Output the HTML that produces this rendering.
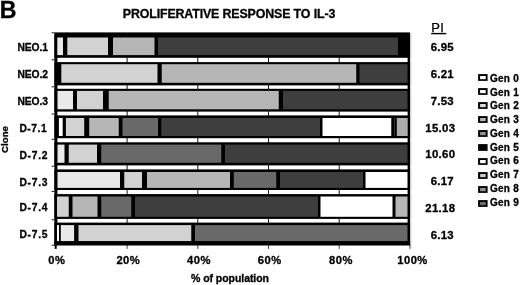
<!DOCTYPE html><html><head><meta charset="utf-8"><title>Proliferative response to IL-3</title>
<style>html,body{margin:0;padding:0;background:#fff}svg{display:block}text{font-family:"Liberation Sans",Arial,Helvetica,sans-serif;fill:#000}.b{font-weight:bold;stroke:#000;stroke-width:.3px}</style></head><body>
<svg width="520" height="285" viewBox="0 0 520 285">
<rect width="520" height="285" fill="#fff"/>
<rect x="54.4" y="32.4" width="355.70000000000005" height="212.9" fill="#000"/>
<rect x="57.4" y="35.1" width="350.20000000000005" height="208.20000000000002" fill="#fff"/>
<rect x="410.70000000000005" y="32.4" width="1" height="215.9" fill="#e4e4e4"/>
<rect x="126.60" y="33.4" width="1" height="211.9" fill="#1a1a1a"/>
<rect x="197.30" y="33.4" width="1" height="211.9" fill="#1a1a1a"/>
<rect x="268.00" y="33.4" width="1" height="211.9" fill="#1a1a1a"/>
<rect x="338.70" y="33.4" width="1" height="211.9" fill="#1a1a1a"/>
<rect x="54.7" y="244.3" width="2" height="4.6" fill="#000"/>
<rect x="126.60" y="244.3" width="1" height="4.6" fill="#444"/>
<rect x="197.30" y="244.3" width="1" height="4.6" fill="#444"/>
<rect x="268.00" y="244.3" width="1" height="4.6" fill="#444"/>
<rect x="338.70" y="244.3" width="1" height="4.6" fill="#444"/>
<rect x="409.40" y="244.3" width="1" height="4.6" fill="#444"/>
<rect x="51.6" y="32.30" width="3.2" height="1" fill="#222"/>
<rect x="51.6" y="59.30" width="3.2" height="1" fill="#222"/>
<rect x="51.6" y="86.30" width="3.2" height="1" fill="#222"/>
<rect x="51.6" y="113.50" width="3.2" height="1" fill="#222"/>
<rect x="51.6" y="138.80" width="3.2" height="1" fill="#222"/>
<rect x="51.6" y="165.70" width="3.2" height="1" fill="#222"/>
<rect x="51.6" y="190.90" width="3.2" height="1" fill="#222"/>
<rect x="51.6" y="219.30" width="3.2" height="1" fill="#222"/>
<rect x="51.6" y="244.70" width="3.2" height="1" fill="#222"/>
<rect x="54.4" y="34.80" width="355.70000000000005" height="23.00" fill="#000"/>
<rect x="57.3" y="37.50" width="5.70" height="17.60" fill="#e9e9e9"/>
<rect x="67.3" y="37.50" width="40.70" height="17.60" fill="#d2d2d2"/>
<rect x="113" y="37.50" width="41.50" height="17.60" fill="#b6b6b6"/>
<rect x="158" y="37.50" width="240.00" height="17.60" fill="#3e3e3e"/>
<text class="b" x="17.5" y="50.60" font-size="10.3" textLength="30.4" lengthAdjust="spacing">NEO.1</text>
<text class="b" x="454.0" y="50.60" font-size="11.4" letter-spacing="0.3" text-anchor="end">6.95</text>
<rect x="54.4" y="62.10" width="355.70000000000005" height="23.30" fill="#000"/>
<rect x="61.3" y="64.20" width="96.20" height="18.60" fill="#d2d2d2"/>
<rect x="161.75" y="64.20" width="194.50" height="18.60" fill="#b6b6b6"/>
<rect x="359.5" y="64.20" width="48.00" height="18.60" fill="#3e3e3e"/>
<text class="b" x="17.5" y="78.30" font-size="10.3" textLength="30.4" lengthAdjust="spacing">NEO.2</text>
<text class="b" x="454.0" y="78.00" font-size="11.4" letter-spacing="0.3" text-anchor="end">6.21</text>
<rect x="54.4" y="88.80" width="355.70000000000005" height="22.80" fill="#000"/>
<rect x="57.5" y="90.90" width="15.50" height="18.40" fill="#e9e9e9"/>
<rect x="77" y="90.90" width="26.00" height="18.40" fill="#d2d2d2"/>
<rect x="108.75" y="90.90" width="170.00" height="18.40" fill="#b6b6b6"/>
<rect x="283" y="90.90" width="124.50" height="18.40" fill="#3e3e3e"/>
<text class="b" x="17.5" y="105.00" font-size="10.3" textLength="30.4" lengthAdjust="spacing">NEO.3</text>
<text class="b" x="454.0" y="104.80" font-size="11.4" letter-spacing="0.3" text-anchor="end">7.53</text>
<rect x="54.4" y="115.40" width="355.70000000000005" height="22.80" fill="#000"/>
<rect x="58.9" y="118.00" width="3.80" height="18.00" fill="#ffffff"/>
<rect x="65.9" y="118.00" width="18.30" height="18.00" fill="#d2d2d2"/>
<rect x="89.2" y="118.00" width="29.55" height="18.00" fill="#b6b6b6"/>
<rect x="122.5" y="118.00" width="35.50" height="18.00" fill="#696969"/>
<rect x="161.25" y="118.00" width="158.75" height="18.00" fill="#3e3e3e"/>
<rect x="322.5" y="118.00" width="68.75" height="18.00" fill="#ffffff"/>
<rect x="394" y="118.00" width="0.60" height="18.00" fill="#505050"/>
<rect x="396.8" y="118.00" width="10.90" height="18.00" fill="#adadad"/>
<text class="b" x="19.4" y="132.20" font-size="10.3" textLength="27.3" lengthAdjust="spacing">D-7.1</text>
<text class="b" x="455.3" y="131.80" font-size="11.4" letter-spacing="0.3" text-anchor="end">15.03</text>
<rect x="54.4" y="142.30" width="355.70000000000005" height="23.10" fill="#000"/>
<rect x="57.5" y="144.60" width="7.00" height="18.20" fill="#e9e9e9"/>
<rect x="68.75" y="144.60" width="28.25" height="18.20" fill="#d2d2d2"/>
<rect x="101.25" y="144.60" width="120.00" height="18.20" fill="#696969"/>
<rect x="225" y="144.60" width="182.50" height="18.20" fill="#3e3e3e"/>
<text class="b" x="19.4" y="158.90" font-size="10.3" textLength="28.2" lengthAdjust="spacing">D-7.2</text>
<text class="b" x="455.3" y="158.20" font-size="11.4" letter-spacing="0.3" text-anchor="end">10.60</text>
<rect x="54.4" y="169.40" width="355.70000000000005" height="20.60" fill="#000"/>
<rect x="57.5" y="172.00" width="62.50" height="15.90" fill="#e9e9e9"/>
<rect x="124.25" y="172.00" width="17.75" height="15.90" fill="#d2d2d2"/>
<rect x="147" y="172.00" width="83.00" height="15.90" fill="#b6b6b6"/>
<rect x="233.75" y="172.00" width="42.50" height="15.90" fill="#696969"/>
<rect x="280" y="172.00" width="83.00" height="15.90" fill="#3e3e3e"/>
<rect x="365.5" y="172.00" width="42.00" height="15.90" fill="#ffffff"/>
<text class="b" x="19.4" y="185.50" font-size="10.3" textLength="28.2" lengthAdjust="spacing">D-7.3</text>
<text class="b" x="454.0" y="185.00" font-size="11.4" letter-spacing="0.3" text-anchor="end">6.17</text>
<rect x="54.4" y="194.10" width="355.70000000000005" height="24.80" fill="#000"/>
<rect x="57" y="196.50" width="11.75" height="20.30" fill="#d2d2d2"/>
<rect x="72.5" y="196.50" width="25.00" height="20.30" fill="#b6b6b6"/>
<rect x="101.25" y="196.50" width="30.00" height="20.30" fill="#696969"/>
<rect x="135" y="196.50" width="183.00" height="20.30" fill="#3e3e3e"/>
<rect x="320.5" y="196.50" width="72.00" height="20.30" fill="#ffffff"/>
<rect x="395.5" y="196.50" width="12.00" height="20.30" fill="#b6b6b6"/>
<text class="b" x="19.4" y="210.80" font-size="10.3" textLength="28.2" lengthAdjust="spacing">D-7.4</text>
<text class="b" x="455.3" y="211.80" font-size="11.4" letter-spacing="0.3" text-anchor="end">21.18</text>
<rect x="54.4" y="222.60" width="355.70000000000005" height="22.40" fill="#000"/>
<rect x="57" y="225.10" width="2.00" height="16.20" fill="#ffffff"/>
<rect x="60.8" y="225.10" width="13.30" height="16.20" fill="#e9e9e9"/>
<rect x="78.5" y="225.10" width="112.75" height="16.20" fill="#d2d2d2"/>
<rect x="195" y="225.10" width="212.50" height="16.20" fill="#696969"/>
<text class="b" x="19.4" y="237.50" font-size="10.3" textLength="28.2" lengthAdjust="spacing">D-7.5</text>
<text class="b" x="454.0" y="238.90" font-size="11.4" letter-spacing="0.3" text-anchor="end">6.13</text>
<rect x="54.4" y="241.2" width="355.70000000000005" height="4.100000000000023" fill="#000"/>
<text class="b" x="-0.3" y="17.5" font-size="23.2">B</text>
<text class="b" x="122.8" y="17.7" font-size="12.4" textLength="212.5" lengthAdjust="spacing">PROLIFERATIVE RESPONSE TO IL-3</text>
<text x="431.3" y="32.2" font-size="13" letter-spacing="0.3" stroke="#000" stroke-width="0.25">PI</text>
<rect x="431.2" y="32.9" width="15" height="1.4" fill="#000"/>
<text class="b" x="56.85" y="263.9" font-size="11.2" letter-spacing="0.5" text-anchor="middle">0%</text>
<text class="b" x="128.35" y="263.9" font-size="11.2" letter-spacing="0.5" text-anchor="middle">20%</text>
<text class="b" x="199.00" y="263.9" font-size="11.2" letter-spacing="0.5" text-anchor="middle">40%</text>
<text class="b" x="269.75" y="263.9" font-size="11.2" letter-spacing="0.5" text-anchor="middle">60%</text>
<text class="b" x="341.00" y="263.9" font-size="11.2" letter-spacing="0.5" text-anchor="middle">80%</text>
<text class="b" x="412.50" y="263.9" font-size="11.2" letter-spacing="0.5" text-anchor="middle">100%</text>
<text class="b" x="191.0" y="281.6" font-size="10.5" textLength="78" lengthAdjust="spacing">% of population</text>
<text class="b" font-size="9.7" transform="translate(8.1,152.9) rotate(-90)">Clone</text>
<rect x="478.1" y="74.10" width="9.5" height="6.8" fill="#000"/>
<rect x="480.1" y="76.00" width="5.6" height="3.2" fill="#fff"/>
<text class="b" x="489.9" y="81.80" font-size="10" textLength="28.9" lengthAdjust="spacing">Gen 0</text>
<rect x="478.1" y="88.10" width="9.5" height="6.8" fill="#000"/>
<rect x="480.1" y="90.00" width="5.6" height="3.2" fill="#fff"/>
<text class="b" x="489.9" y="95.56" font-size="10" textLength="28.9" lengthAdjust="spacing">Gen 1</text>
<rect x="478.1" y="102.10" width="9.5" height="6.8" fill="#000"/>
<rect x="480.1" y="104.00" width="5.6" height="3.2" fill="#dcdcdc"/>
<text class="b" x="489.9" y="109.32" font-size="10" textLength="28.9" lengthAdjust="spacing">Gen 2</text>
<rect x="478.1" y="116.10" width="9.5" height="6.8" fill="#000"/>
<rect x="480.1" y="118.00" width="5.6" height="3.2" fill="#b4b4b4"/>
<text class="b" x="489.9" y="123.08" font-size="10" textLength="28.9" lengthAdjust="spacing">Gen 3</text>
<rect x="478.1" y="130.10" width="9.5" height="6.8" fill="#000"/>
<rect x="480.1" y="132.00" width="5.6" height="3.2" fill="#949494"/>
<text class="b" x="489.9" y="136.84" font-size="10" textLength="28.9" lengthAdjust="spacing">Gen 4</text>
<rect x="478.1" y="144.10" width="9.5" height="6.8" fill="#000"/>
<rect x="480.1" y="146.00" width="5.6" height="3.2" fill="#000"/>
<text class="b" x="489.9" y="150.60" font-size="10" textLength="28.9" lengthAdjust="spacing">Gen 5</text>
<rect x="478.1" y="158.10" width="9.5" height="6.8" fill="#000"/>
<rect x="480.1" y="160.00" width="5.6" height="3.2" fill="#fff"/>
<text class="b" x="489.9" y="164.36" font-size="10" textLength="28.9" lengthAdjust="spacing">Gen 6</text>
<rect x="478.1" y="172.10" width="9.5" height="6.8" fill="#000"/>
<rect x="480.1" y="174.00" width="5.6" height="3.2" fill="#c8c8c8"/>
<text class="b" x="489.9" y="178.12" font-size="10" textLength="28.9" lengthAdjust="spacing">Gen 7</text>
<rect x="478.1" y="186.10" width="9.5" height="6.8" fill="#000"/>
<rect x="480.1" y="188.00" width="5.6" height="3.2" fill="#909090"/>
<text class="b" x="489.9" y="191.88" font-size="10" textLength="28.9" lengthAdjust="spacing">Gen 8</text>
<rect x="478.1" y="200.10" width="9.5" height="6.8" fill="#000"/>
<rect x="480.1" y="202.00" width="5.6" height="3.2" fill="#707070"/>
<text class="b" x="489.9" y="205.64" font-size="10" textLength="28.9" lengthAdjust="spacing">Gen 9</text>
</svg></body></html>
